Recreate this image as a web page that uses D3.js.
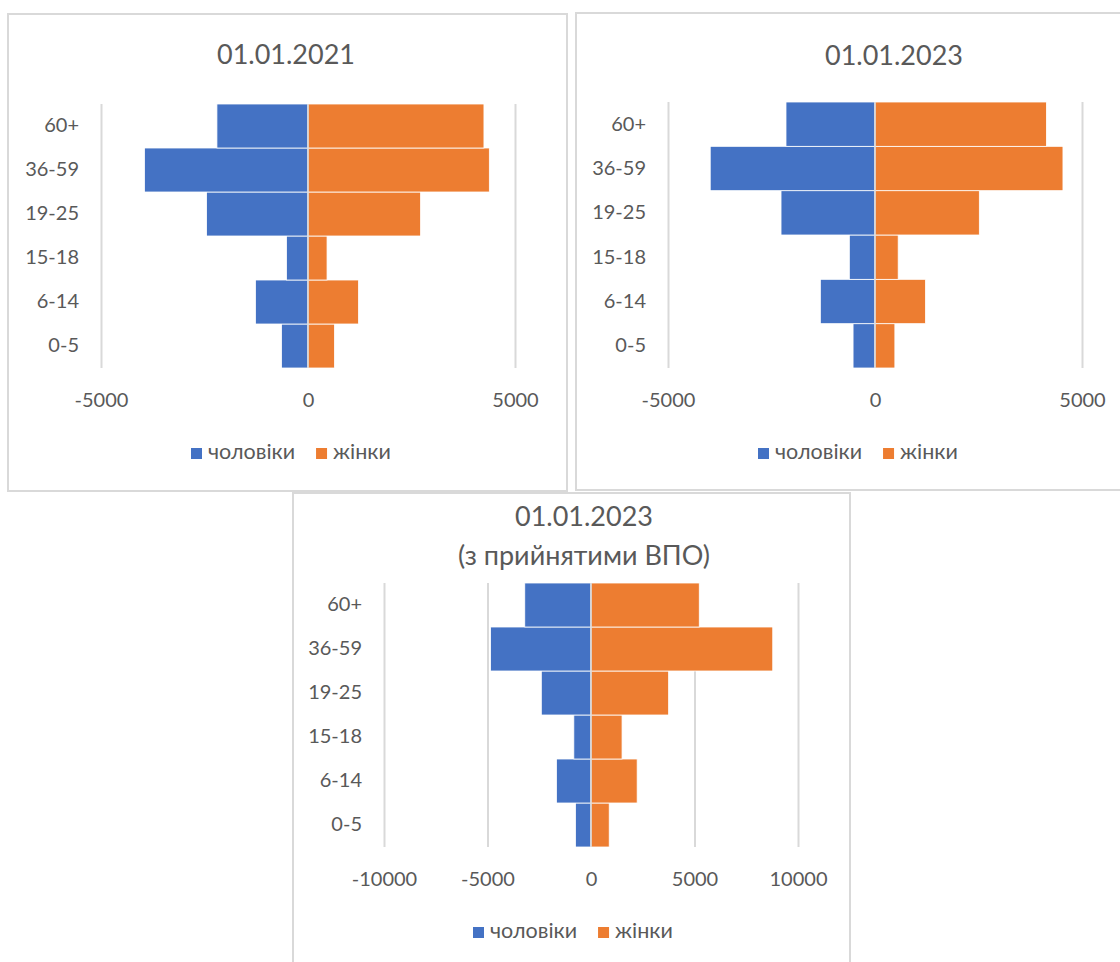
<!DOCTYPE html>
<html>
<head>
<meta charset="utf-8">
<script src="https://cdn.jsdelivr.net/npm/d3@7"></script>
<style>
  body { margin: 0; background: #ffffff; }
  text { font-family: Lato, "Open Sans", sans-serif; fill: #595959; }
</style>
</head>
<body>
<div id="chart"></div>
<script>
// age groups, listed from bottom to top
var ageGroups = ["0-5", "6-14", "15-18", "19-25", "36-59", "60+"];

// 01.01.2021
var men2021 = [-640, -1270, -520, -2450, -3950, -2200];
var women2021 = [640, 1220, 460, 2720, 4380, 4250];

// 01.01.2023
var men2023 = [-530, -1320, -620, -2270, -3980, -2150];
var women2023 = [480, 1220, 560, 2520, 4540, 4140];

// 01.01.2023 with accepted IDPs
var menIdp = [-750, -1670, -830, -2400, -4850, -3200];
var womenIdp = [880, 2230, 1500, 3750, 8780, 5230];

var ticksSmall = [-5000, 0, 5000];
var ticksBig = [-10000, -5000, 0, 5000, 10000];

var seriesNames = ["чоловіки", "жінки"];
var blue = "#4472C4";
var orange = "#ED7D31";
var gridColor = "#d9d9d9";

var svg = d3.select("#chart")
  .append("svg")
  .attr("width", 1120)
  .attr("height", 962);

svg.append("rect")
  .attr("width", 1120)
  .attr("height", 962)
  .attr("fill", "#ffffff");

function drawPyramid(opt) {
  // chart frame
  svg.append("rect")
    .attr("x", opt.box[0])
    .attr("y", opt.box[1])
    .attr("width", opt.box[2])
    .attr("height", opt.box[3])
    .attr("fill", "#ffffff")
    .attr("stroke", gridColor)
    .attr("stroke-width", 2);

  var g = svg.append("g");

  var x = d3.scaleLinear()
    .domain(d3.extent(opt.ticks))
    .range([opt.left, opt.right]);

  var y = d3.scaleBand()
    .domain(ageGroups)
    .range([opt.bottom, opt.top])
    .padding(0);

  var plotHeight = opt.bottom - opt.top;

  // gridlines
  g.append("g")
    .attr("transform", `translate(0, ${opt.bottom})`)
    .call(d3.axisBottom(x).tickValues(opt.ticks).tickSize(-plotHeight).tickFormat(""))
    .call(a => a.select(".domain").remove())
    .selectAll("line")
    .attr("stroke", gridColor)
    .attr("stroke-width", 2);

  // tick labels (plain hyphen, like Excel)
  g.append("g")
    .attr("transform", `translate(0, ${opt.bottom + 39})`)
    .call(d3.axisBottom(x).tickValues(opt.ticks).tickSize(0).tickPadding(0).tickFormat(d => String(d)))
    .call(a => a.select(".domain").remove())
    .selectAll("text")
    .attr("dy", 0)
    .attr("y", 0)
    .style("font-size", "20px")
    .style("font-family", "Lato, sans-serif")
    .attr("fill", "#595959");

  // bars
  var rows = ageGroups.map(function(a, i) {
    return { age: a, men: opt.men[i], women: opt.women[i] };
  });

  g.selectAll(".men")
    .data(rows)
    .enter()
    .append("rect")
    .attr("x", d => x(d.men))
    .attr("y", d => y(d.age))
    .attr("width", d => x(0) - x(d.men))
    .attr("height", y.bandwidth())
    .attr("fill", blue)
    .attr("stroke", "#ffffff")
    .attr("stroke-width", 0.8);

  g.selectAll(".women")
    .data(rows)
    .enter()
    .append("rect")
    .attr("x", x(0))
    .attr("y", d => y(d.age))
    .attr("width", d => x(d.women) - x(0))
    .attr("height", y.bandwidth())
    .attr("fill", orange)
    .attr("stroke", "#ffffff")
    .attr("stroke-width", 0.8);

  // vertical axis line at zero
  g.append("line")
    .attr("x1", x(0))
    .attr("x2", x(0))
    .attr("y1", opt.top)
    .attr("y2", opt.bottom)
    .attr("stroke", gridColor)
    .attr("stroke-width", 1.5);

  // category labels
  g.append("g")
    .attr("transform", `translate(${opt.left - 22}, 0)`)
    .call(d3.axisLeft(y).tickSize(0).tickPadding(0))
    .call(a => a.select(".domain").remove())
    .selectAll("text")
    .style("font-size", "20px")
    .style("font-family", "Lato, sans-serif")
    .attr("fill", "#595959");

  // title
  var title = g.append("text")
    .attr("x", opt.titleX)
    .attr("y", opt.titleY)
    .attr("text-anchor", "middle")
    .style("font-size", "27px");
  opt.title.forEach(function(line, i) {
    title.append("tspan")
      .attr("x", opt.titleX)
      .attr("dy", i === 0 ? 0 : 39)
      .text(line);
  });

  // legend
  var legend = g.append("g")
    .attr("transform", `translate(${opt.legendX}, ${opt.bottom + 85})`);
  var lx = 0;
  [blue, orange].forEach(function(c, i) {
    legend.append("rect")
      .attr("x", lx)
      .attr("y", -5)
      .attr("width", 11)
      .attr("height", 11)
      .attr("fill", c);
    var t = legend.append("text")
      .attr("x", lx + 17)
      .attr("y", 5.5)
      .style("font-size", "21.5px")
      .text(seriesNames[i]);
    lx += 17 + t.node().getComputedTextLength() + 21;
  });
}

drawPyramid({
  box: [8, 14, 559, 477],
  left: 101, right: 515, top: 104, bottom: 368,
  ticks: ticksSmall,
  men: men2021, women: women2021,
  title: ["01.01.2021"], titleX: 286, titleY: 64,
  legendX: 191
});

drawPyramid({
  box: [576, 13, 560, 477],
  left: 668, right: 1082, top: 102, bottom: 368,
  ticks: ticksSmall,
  men: men2023, women: women2023,
  title: ["01.01.2023"], titleX: 894, titleY: 65,
  legendX: 758
});

drawPyramid({
  box: [293, 493, 557, 480],
  left: 384, right: 798, top: 583, bottom: 847,
  ticks: ticksBig,
  men: menIdp, women: womenIdp,
  title: ["01.01.2023", "(з прийнятими ВПО)"], titleX: 584, titleY: 526,
  legendX: 473
});
</script>
</body>
</html>
